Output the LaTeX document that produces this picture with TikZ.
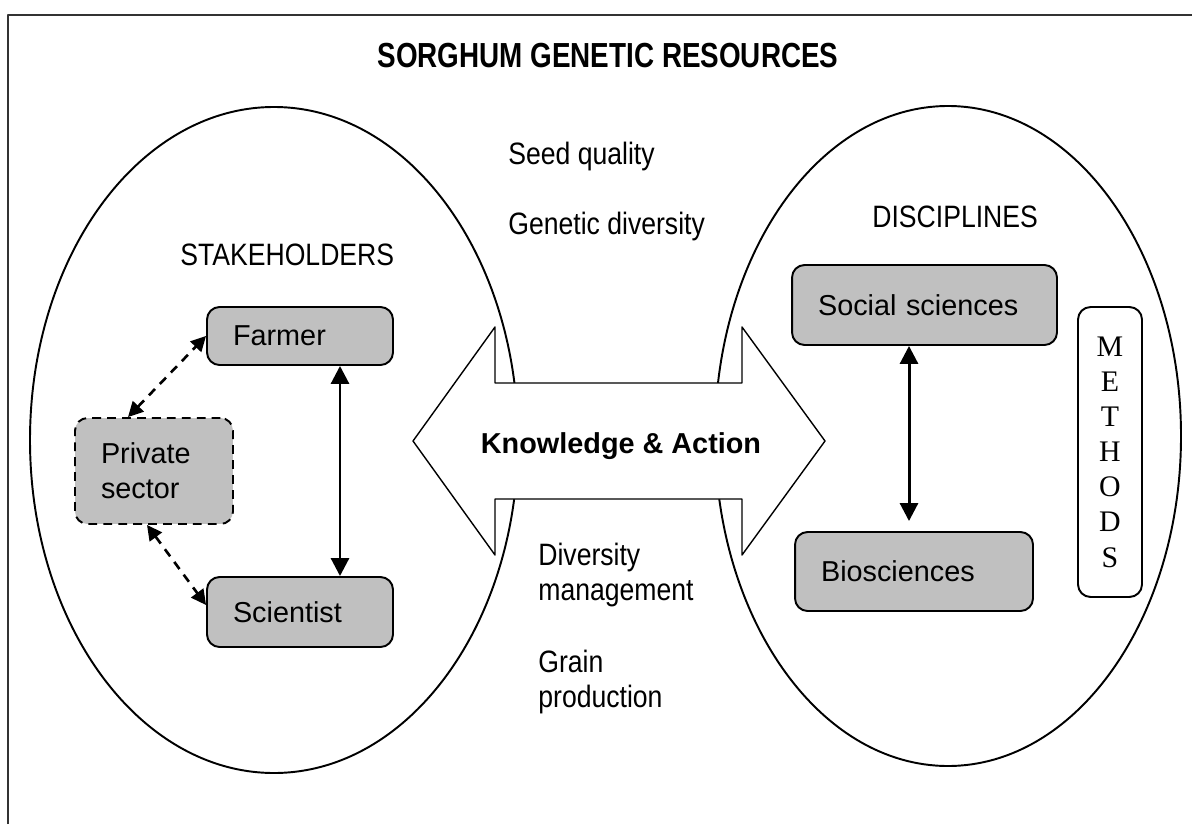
\documentclass[tikz,border=0pt]{standalone}
\usepackage{fontspec}
\setmainfont{Liberation Serif}
\setsansfont{Liberation Sans}
\newfontfamily\narrowfont[FakeStretch=0.86]{Liberation Sans}
\newfontfamily\titlefont[FakeStretch=0.8]{Liberation Sans}
\usetikzlibrary{arrows.meta}
\definecolor{boxgray}{RGB}{192,192,192}
\newcommand{\boxfont}{\sffamily\fontsize{16.4}{19.8}\selectfont}
\newcommand{\labelfont}{\narrowfont\fontsize{17.6}{19.8}\selectfont}
\begin{document}
\begin{tikzpicture}[x=0.02cm, y=-0.02cm, >={Triangle[length=0.36cm,width=0.36cm]}, line join=round,
	box/.style={draw, line width=1.1pt, fill=boxgray, rounded corners=0.25cm, align=left, inner xsep=0.52cm, inner ysep=0pt, font=\boxfont},
	link/.style={<->, line width=1.7pt},
	dlink/.style={{Triangle[length=0.3cm,width=0.3cm]}-{Triangle[length=0.3cm,width=0.3cm]}, line width=1.5pt, dash pattern=on 5pt off 4pt},
	lbl/.style={anchor=base west, inner sep=0pt, align=left, font=\labelfont}]
	\useasboundingbox (0,0) rectangle (1192,824);
	% frame
	\draw[line width=0.8pt, black!80] (8,824) -- (8,15) -- (1192,15);
	\node[anchor=base, font=\titlefont\bfseries\fontsize{19.8}{22}\selectfont] (title) at (608,68) {SORGHUM GENETIC RESOURCES};
	% ellipses
	\draw[line width=1.1pt] (274,440) ellipse [x radius=244, y radius=333];
	\draw[line width=1.1pt] (948,436) ellipse [x radius=233, y radius=330];
	% double arrow
	\draw[line width=0.8pt, fill=white] (413,441) -- (495,327) -- (495,383) -- (742,383) -- (742,327) -- (825,441)
		-- (742,555) -- (742,499) -- (495,499) -- (495,555) -- cycle;
	\node[anchor=base, font=\sffamily\bfseries\fontsize{16.4}{19.8}\selectfont] (ka) at (621,453) {Knowledge \& Action};
	% labels
	\node[lbl] (stake) at (180,265) {STAKEHOLDERS};
	\node[lbl] (disc) at (872,227) {DISCIPLINES};
	\node[lbl] (seed) at (508,165) {Seed quality};
	\node[lbl] (gen) at (508,235) {Genetic diversity};
	\node[lbl] (divm) at (538,600) {Diversity\\management};
	\node[lbl] (grain) at (538,707) {Grain\\production};
	% stakeholders
	\node[box, text width=2.68cm, minimum height=1.16cm] (farmer) at (300,336) {Farmer};
	\node[box, text width=2.68cm, minimum height=1.4cm] (scientist) at (300,612) {Scientist};
	\node[box, text width=2.12cm, minimum height=2.12cm, dash pattern=on 5pt off 3.5pt] (private) at (154,471) {Private\\sector};
	\coordinate (fs) at (340,0);
	\draw[link] (farmer.south -| fs) -- (scientist.north -| fs);
	\draw[dlink] ([xshift=-0.52cm]private.north) -- (farmer.west);
	\draw[dlink] ([xshift=-0.14cm]private.south) -- ([yshift=0.14cm]scientist.west);
	% disciplines
	\node[box, text width=4.26cm, minimum height=1.6cm] (social) at (924.5,305) {Social sciences};
	\node[box, text width=3.72cm, minimum height=1.58cm] (bio) at (914,571.5) {Biosciences};
	\coordinate (sb) at (909,0);
	\draw[link, shorten >=0.2cm] (social.south -| sb) -- (bio.north -| sb);
	\node[draw, line width=1.1pt, rounded corners=0.25cm, minimum width=1.28cm, minimum height=5.8cm, align=center,
		font=\rmfamily\fontsize{17}{20}\selectfont] (methods) at (1110,452) {M\\E\\T\\H\\O\\D\\S};
\end{tikzpicture}
\end{document}
